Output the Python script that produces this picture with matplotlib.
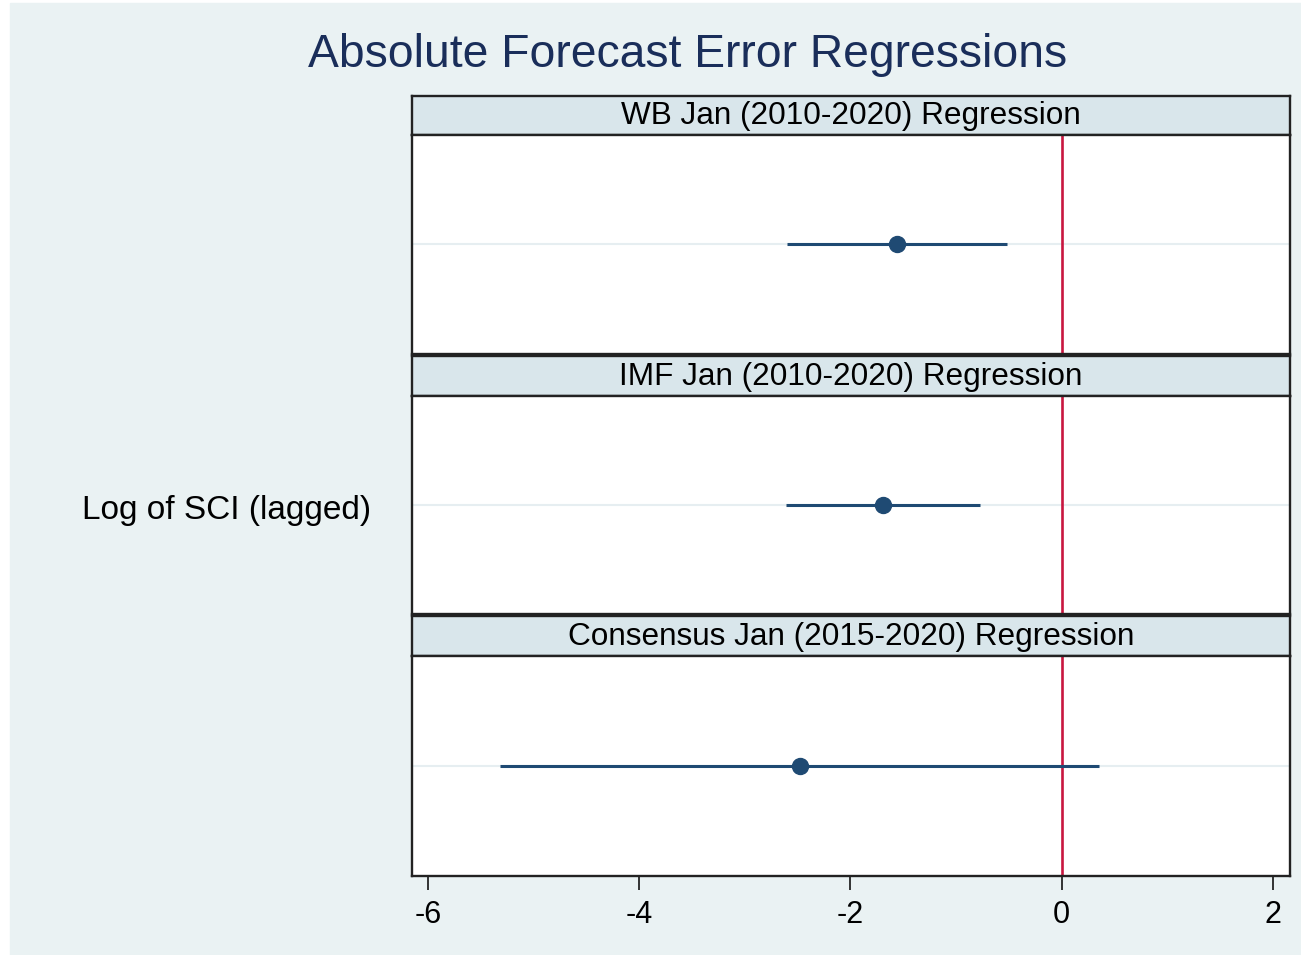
import matplotlib.pyplot as plt
from matplotlib.patches import Rectangle

# coefficient estimates and 95% CIs
panels = ['WB Jan (2010-2020) Regression',
          'IMF Jan (2010-2020) Regression',
          'Consensus Jan (2015-2020) Regression']
coef = [-1.56, -1.69, -2.48]
ci_lo = [-2.60, -2.61, -5.32]
ci_hi = [-0.52, -0.77, 0.35]
ylabel = 'Log of SCI (lagged)'
xticks = [-6, -4, -2, 0, 2]

W, H = 1301, 955
plt.rcParams['font.family'] = ['Liberation Sans', 'DejaVu Sans']
fig = plt.figure(figsize=(W / 100, H / 100), dpi=100)
fig.patch.set_facecolor('white')
fig.patches.append(Rectangle((10 / W, 0), 1 - 10 / W, 1 - 3 / H,
                             transform=fig.transFigure, color='#EAF2F3', zorder=-10))

fig.text(688 / W, 1 - 55 / H, 'Absolute Forecast Error Regressions',
         ha='center', va='center', fontsize=33.3, color='#1A2E5A')

x0, x1 = 412, 1290
# (header top, header bottom, plot bottom) in pixels from top
rows = [(96, 135, 354), (356, 396, 614), (616, 656, 876)]
navy = '#1F4A73'

for i, (ht, hb, pb) in enumerate(rows):
    hax = fig.add_axes([x0 / W, 1 - hb / H, (x1 - x0) / W, (hb - ht) / H])
    hax.set_facecolor('#D9E6EB')
    hax.set_xticks([])
    hax.set_yticks([])
    for s in hax.spines.values():
        s.set_linewidth(1.7)
        s.set_color('#222222')
    hax.text(0.5, 0.48, panels[i], ha='center', va='center', fontsize=22.7,
             transform=hax.transAxes)

    ax = fig.add_axes([x0 / W, 1 - pb / H, (x1 - x0) / W, (pb - hb) / H])
    ax.set_facecolor('white')
    ax.set_xlim(-6.15, 2.16)
    ax.set_ylim(0, 1)
    ax.axhline(0.5, color='#E6EEF1', lw=1.5, zorder=1)
    ax.axvline(0, color='#C8163F', lw=1.9, zorder=2)
    ax.hlines(0.5, ci_lo[i], ci_hi[i], color=navy, lw=2.2, zorder=3)
    ax.plot(coef[i], 0.5, 'o', color=navy, ms=11.5, zorder=4)
    ax.set_yticks([])
    for s in ax.spines.values():
        s.set_linewidth(1.7)
        s.set_color('#222222')
    if i < 2:
        ax.set_xticks([])
    else:
        ax.set_xticks(xticks)
        ax.set_xticklabels([str(t) for t in xticks])
        ax.tick_params(axis='x', length=10, width=1.4, labelsize=22, pad=7,
                       color='#333333')

fig.text(227 / W, 1 - 510 / H, ylabel, ha='center', va='center', fontsize=24)

fig.savefig('out.png', dpi=100)
